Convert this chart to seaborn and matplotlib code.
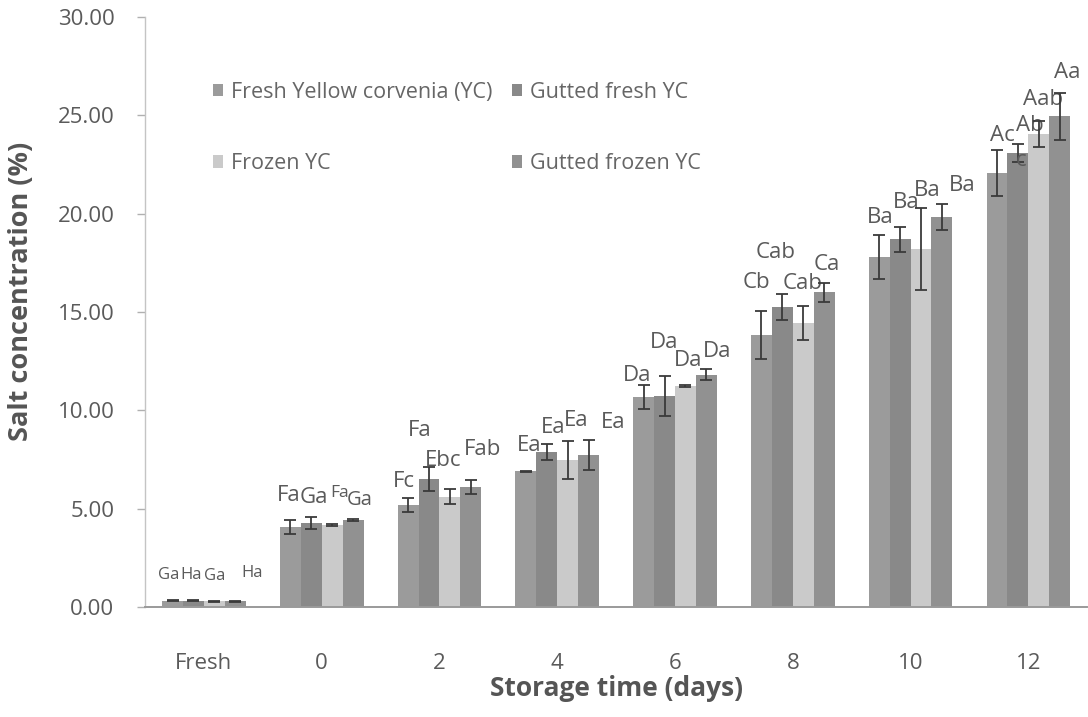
import numpy as np
import pandas as pd
import matplotlib
matplotlib.use("Agg")
import matplotlib.pyplot as plt
import seaborn as sns

# ---- data -------------------------------------------------------------
categories = ["Fresh", "0", "2", "4", "6", "8", "10", "12"]
groups = ["Fresh Yellow corvenia (YC)", "Gutted fresh YC", "Frozen YC", "Gutted frozen YC"]

fresh_yc = [0.33, 4.07, 5.19, 6.91, 10.68, 13.83, 17.80, 22.06]
fresh_yc_sd = [0.04, 0.34, 0.36, 0.03, 0.59, 1.23, 1.10, 1.17]
gutted_fresh = [0.33, 4.27, 6.51, 7.88, 10.73, 15.25, 18.70, 23.08]
gutted_fresh_sd = [0.04, 0.30, 0.60, 0.40, 1.00, 0.68, 0.64, 0.46]
frozen = [0.30, 4.17, 5.60, 7.47, 11.24, 14.44, 18.20, 24.05]
frozen_sd = [0.03, 0.05, 0.38, 0.96, 0.03, 0.85, 2.07, 0.65]
gutted_frozen = [0.30, 4.42, 6.10, 7.73, 11.80, 16.00, 19.83, 24.96]
gutted_frozen_sd = [0.03, 0.05, 0.34, 0.78, 0.28, 0.47, 0.65, 1.20]

fresh_yc_letters = ["Ga", "Fa", "Fc", "Ea", "Da", "Cb", "Ba", "Ac"]
gutted_fresh_letters = ["Ha", "Ga", "Fa", "Ea", "Da", "Cab", "Ba", "Ab"]
frozen_letters = ["Ga", "Fa", "Ebc", "Ea", "Da", "Cab", "Ba", "Aab"]
gutted_frozen_letters = ["Ha", "Ga", "Fab", "Ea", "Da", "Ca", "Ba", "Aa"]

values = [fresh_yc, gutted_fresh, frozen, gutted_frozen]
sds = [fresh_yc_sd, gutted_fresh_sd, frozen_sd, gutted_frozen_sd]
letters = [fresh_yc_letters, gutted_fresh_letters, frozen_letters, gutted_frozen_letters]

# label offsets (pixels) from the top of each error bar
label_offsets = [
    [(-4, 25), (-2, 25), (-4, 16), (3, 25), (-7, 10), (-5, 28), (1, 18), (5, 15)],
    [(-2, 25), (3, 20), (-9, 37), (6, 17), (0, 34), (-7, 41), (6, 24), (12, 19)],
    [(0, 25), (7, 31), (-7, 29), (8, 21), (3, 25), (-1, 23), (6, 18), (4, 22)],
    [(17, 28), (7, 19), (12, 31), (25, 17), (11, 18), (3, 19), (20, 19), (8, 20)],
]
label_size = 16
# (group index, category index): font size for smaller letters
label_sizes = {(0, 0): 12, (1, 0): 12, (2, 0): 12, (3, 0): 12,
               (2, 1): 12.5, (3, 1): 14.5}
# stray letter sitting on the gutted-fresh cap at day 12
extra_labels = [(1, 7, "c", (3, -16))]

palette = ["#9b9b9b", "#898989", "#cacaca", "#919191"]
text_grey = "#5a5a5a"

# ---- long-form table --------------------------------------------------
rows = []
for g, vals in zip(groups, values):
    for c, v in zip(categories, vals):
        rows.append({"time": c, "group": g, "salt": v})
df = pd.DataFrame(rows)

sns.set_theme(style="white")
plt.rcParams["font.family"] = ["Open Sans", "DejaVu Sans"]

fig = plt.figure(figsize=(10.88, 7.17), dpi=100)
ax = fig.add_axes([0.1333, 0.1534, 0.866, 0.8229])

sns.barplot(data=df, x="time", y="salt", hue="group", order=categories,
            hue_order=groups, palette=palette, width=0.71, saturation=1,
            errorbar=None, ax=ax, linewidth=0)

bar_containers = list(ax.containers)

# error bars and significance letters
for gi, cont in enumerate(bar_containers):
    xs = [b.get_x() + b.get_width() / 2 for b in cont]
    hs = [b.get_height() for b in cont]
    ax.errorbar(xs, hs, yerr=sds[gi], fmt="none", ecolor="#3a3a3a",
                elinewidth=1.3, capsize=4, capthick=1.3, zorder=3)
    for ci, (x, h) in enumerate(zip(xs, hs)):
        top = h + sds[gi][ci]
        dx, dy = label_offsets[gi][ci]
        ax.annotate(letters[gi][ci], xy=(x, top), xytext=(dx, dy),
                    textcoords="offset pixels", ha="center", va="center",
                    fontsize=label_sizes.get((gi, ci), label_size), color=text_grey)
    for egi, eci, txt, (dx, dy) in extra_labels:
        if egi == gi:
            x, h = xs[eci], hs[eci]
            ax.annotate(txt, xy=(x, h + sds[gi][eci]), xytext=(dx, dy),
                        textcoords="offset pixels", ha="center", va="center",
                        fontsize=label_size, color=text_grey)

# axes styling
ax.set_ylim(0, 30)
ax.set_xlim(-0.5, len(categories) - 0.5)
ax.set_yticks(np.arange(0, 30.01, 5))
ax.set_yticklabels([f"{t:.2f}" for t in np.arange(0, 30.01, 5)])
sns.despine(ax=ax, top=True, right=True)
ax.spines["left"].set_color("#c4c4c4")
ax.spines["left"].set_linewidth(1.0)
ax.spines["bottom"].set_color("#9a9a9a")
ax.spines["bottom"].set_linewidth(1.4)
ax.tick_params(axis="y", which="major", direction="out", length=6, width=1,
               color="#b0b0b0", pad=16, labelsize=16, labelcolor="#5a5a5a", left=True)
ax.tick_params(axis="x", length=0, pad=33, labelsize=16, labelcolor="#5a5a5a")
ax.set_xlabel("Storage time (days)", fontsize=19, fontweight="bold",
              color="#555555", labelpad=1)
ax.set_ylabel("Salt concentration (%)", fontsize=19.5, fontweight="bold",
              color="#555555")
ax.yaxis.set_label_coords(-0.118, 0.535)

# legend filled row by row: two entries per row
handles, labels = ax.get_legend_handles_labels()
order = [0, 2, 1, 3]
ax.legend([handles[i] for i in order], [labels[i] for i in order],
          loc="upper left", bbox_to_anchor=(0.0625, 0.905),
          ncol=2, frameon=False, fontsize=15.5, labelcolor="#666666",
          handlelength=0.5, handleheight=0.5, handletextpad=0.35,
          labelspacing=2.35, columnspacing=0.9, borderaxespad=0)

fig.savefig("out.png", dpi=100, facecolor="white")
